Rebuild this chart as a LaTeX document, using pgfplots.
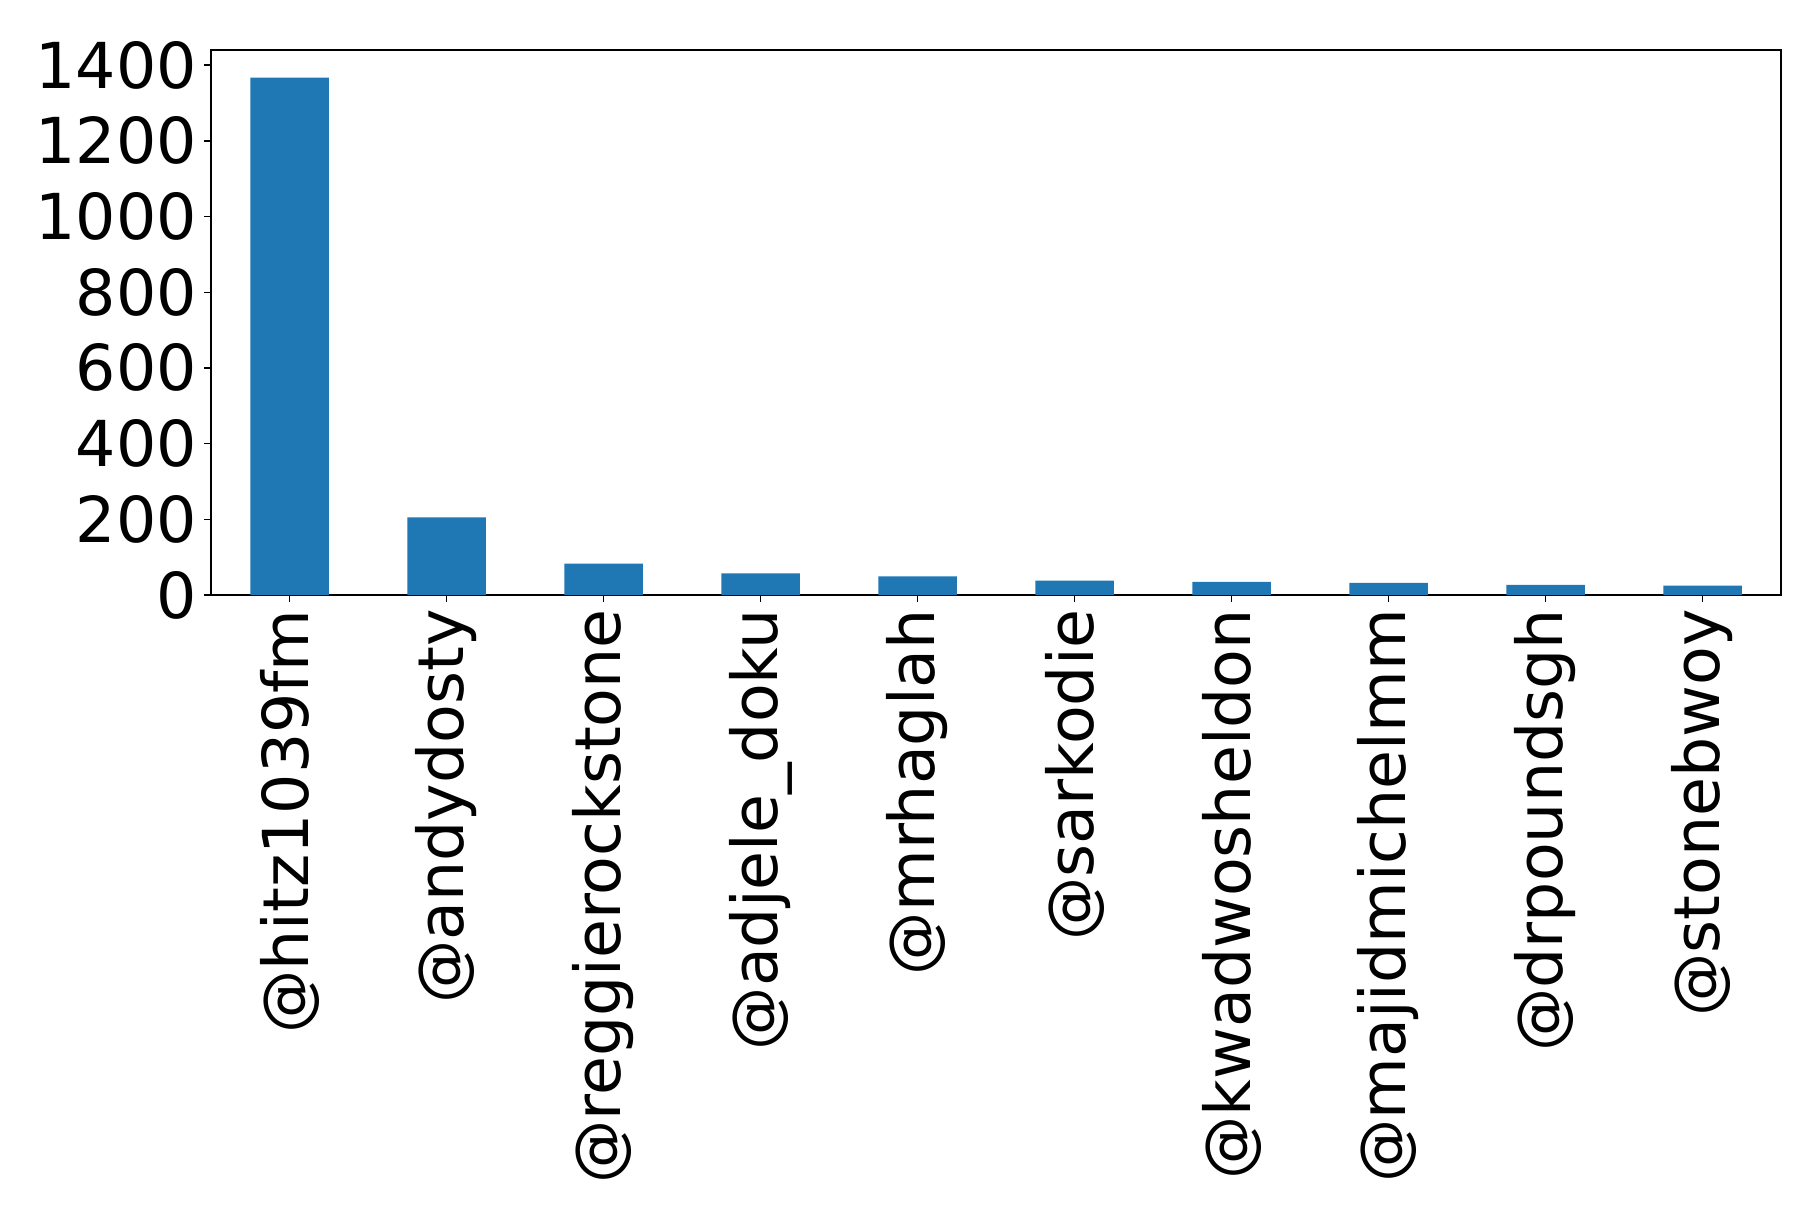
\documentclass[border=0pt]{standalone}
\usepackage{fontspec}
\setmainfont{DejaVu Sans}
\usepackage{pgfplots}
\pgfplotsset{compat=1.18}
\definecolor{barblue}{HTML}{1F77B4}

\begin{document}
\begin{tikzpicture}
\begin{axis}[
    scale only axis,
    width=471pt, height=163.5pt,
    xmin=-0.5, xmax=9.5,
    ymin=0, ymax=1440,
    ybar, bar width=0.5,
    bar shift=0pt,
    xtick={0,...,9},
    xticklabels={@hitz1039fm,@andydosty,@reggierockstone,@adjele\_doku,@mrhaglah,@sarkodie,@kwadwosheldon,@majidmichelmm,@drpoundsgh,@stonebwoy},
    ytick={0,200,400,600,800,1000,1200,1400},
    tick align=outside,
    major tick length=2.1pt,
    xtick pos=bottom, ytick pos=left,
    axis line style={line width=0.4pt},
    tick style={line width=0.4pt, black},
    tick label style={font=\fontsize{19}{23}\selectfont},
    /pgf/number format/assume math mode=true,
    /pgf/number format/1000 sep={},
    xticklabel style={rotate=90, anchor=east, inner sep=2pt},
    yticklabel style={inner sep=2pt},
]
\addplot[fill=barblue, draw=none] coordinates {
    (0,1367) (1,205) (2,83) (3,57) (4,49) (5,38) (6,35) (7,32) (8,27) (9,25)
};
\end{axis}
\path ([shift={(-63.3pt,-183pt)}]current axis.south west) rectangle ([shift={(5.1pt,15pt)}]current axis.north east);
\end{tikzpicture}
\end{document}
